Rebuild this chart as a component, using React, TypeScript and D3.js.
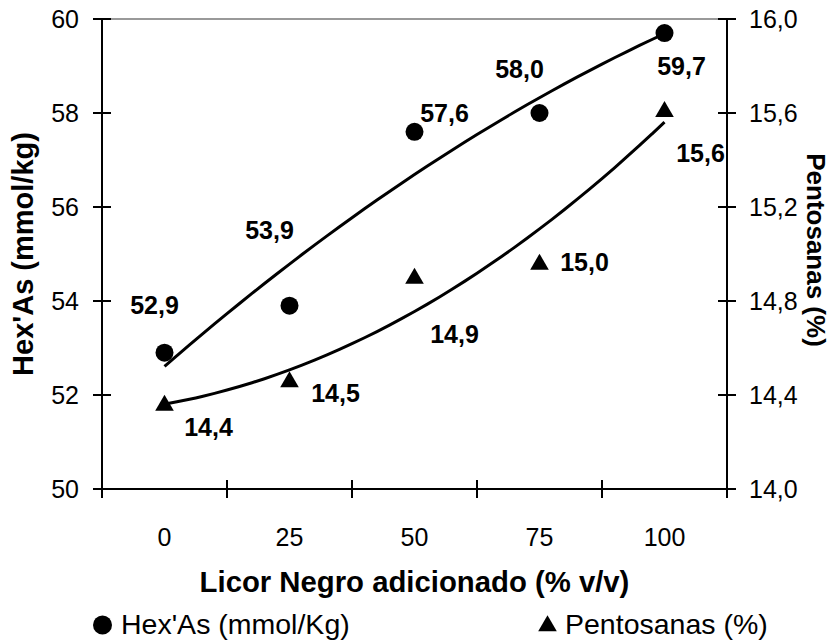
import React, { useEffect, useRef } from "react";
import * as d3 from "d3";

const categories = ["0", "25", "50", "75", "100"];
const hexValues = [52.9, 53.9, 57.6, 58.0, 59.7];
const pentValues = [14.36, 14.46, 14.9, 14.96, 15.61];
const leftTicks = [50, 52, 54, 56, 58, 60];
const rightTicks = [14.0, 14.4, 14.8, 15.2, 15.6, 16.0];

// label offsets from the marker centre (layout only)
const hexLabelOffsets = [[-10, -48], [-20, -76], [30, -19], [-20, -44], [17, 33]];
const pentLabelOffsets = [[44, 23], [46, 12], [40, 56], [45, -1], [36, 42]];

const FONT = "'Liberation Sans', Arial, sans-serif";

const comma = (v: number) => d3.format(".1f")(v).replace(".", ",");

// quadratic least-squares trend on equally spaced points
function quadFit(ys: number[]) {
  const n = ys.length;
  const us = ys.map((_, i) => i - (n - 1) / 2);
  const m2 = d3.mean(us, (u) => u * u) as number;
  const p2 = us.map((u) => u * u - m2);
  const a = d3.mean(ys) as number;
  const b = d3.sum(us, (u, i) => u * ys[i]) / d3.sum(us, (u) => u * u);
  const c = d3.sum(p2, (p, i) => p * ys[i]) / d3.sum(p2, (p) => p * p);
  return (i: number) => {
    const u = i - (n - 1) / 2;
    return a + b * u + c * (u * u - m2);
  };
}

const App = () => {
  const ref = useRef(null);

  useEffect(() => {
    const svg = d3.select(ref.current);
    svg.selectAll("*").remove();

    const left = 102, right = 727, top = 19, bottom = 489;

    const x = d3.scaleBand().domain(categories).range([left, right]);
    const cx = (i: number) => (x(categories[i]) as number) + x.bandwidth() / 2;
    const yL = d3.scaleLinear().domain([50, 60]).range([bottom, top]);
    const yR = d3.scaleLinear().domain([14, 16]).range([bottom, top]);

    const g = svg.append("g");

    // top border
    g.append("line")
      .attr("x1", left).attr("x2", right).attr("y1", top).attr("y2", top)
      .attr("stroke", "#999").attr("stroke-width", 2);

    // axes lines
    g.append("line").attr("x1", left).attr("x2", left).attr("y1", top).attr("y2", bottom)
      .attr("stroke", "#000").attr("stroke-width", 2);
    g.append("line").attr("x1", right).attr("x2", right).attr("y1", top).attr("y2", bottom)
      .attr("stroke", "#000").attr("stroke-width", 2);
    g.append("line").attr("x1", left).attr("x2", right).attr("y1", bottom).attr("y2", bottom)
      .attr("stroke", "#000").attr("stroke-width", 2);

    // left ticks
    g.selectAll(".lt").data(leftTicks).join("line")
      .attr("x1", left - 9).attr("x2", left + 9)
      .attr("y1", (d) => yL(d)).attr("y2", (d) => yL(d))
      .attr("stroke", "#000").attr("stroke-width", 2);
    g.selectAll(".ltl").data(leftTicks).join("text")
      .attr("x", 79).attr("y", (d) => yL(d)).attr("dy", "0.36em")
      .attr("text-anchor", "end").attr("font-size", 25).attr("font-family", FONT)
      .text((d) => String(d));

    // right ticks
    g.selectAll(".rt").data(rightTicks).join("line")
      .attr("x1", right - 9).attr("x2", right + 9)
      .attr("y1", (d) => yR(d)).attr("y2", (d) => yR(d))
      .attr("stroke", "#000").attr("stroke-width", 2);
    g.selectAll(".rtl").data(rightTicks).join("text")
      .attr("x", 749).attr("y", (d) => yR(d)).attr("dy", "0.36em")
      .attr("text-anchor", "start").attr("font-size", 25).attr("font-family", FONT)
      .text((d) => comma(d));

    // bottom ticks at category boundaries
    const bounds = categories.map((c) => x(c) as number).concat([right]);
    g.selectAll(".bt").data(bounds).join("line")
      .attr("x1", (d) => d).attr("x2", (d) => d)
      .attr("y1", bottom - 9).attr("y2", bottom + 9)
      .attr("stroke", "#000").attr("stroke-width", 2);
    g.selectAll(".btl").data(categories).join("text")
      .attr("x", (_, i) => cx(i)).attr("y", 546)
      .attr("text-anchor", "middle").attr("font-size", 25).attr("font-family", FONT)
      .text((d) => d);

    // trend lines
    const line = d3.line<number[]>().x((d) => d[0]).y((d) => d[1]).curve(d3.curveBasis);
    const steps = d3.range(0, 4.0001, 0.1);
    const step = x.step();
    const hexFit = quadFit(hexValues);
    const pentFit = quadFit(pentValues);
    g.append("path")
      .attr("d", line(steps.map((t) => [cx(0) + t * step, yL(hexFit(t))])))
      .attr("fill", "none").attr("stroke", "#000").attr("stroke-width", 3);
    g.append("path")
      .attr("d", line(steps.map((t) => [cx(0) + t * step, yR(pentFit(t))])))
      .attr("fill", "none").attr("stroke", "#000").attr("stroke-width", 3);

    // markers
    g.selectAll(".hex").data(hexValues).join("circle")
      .attr("cx", (_, i) => cx(i)).attr("cy", (d) => yL(d)).attr("r", 9).attr("fill", "#000");
    const tri = d3.symbol().type(d3.symbolTriangle).size(150);
    g.selectAll(".pent").data(pentValues).join("path")
      .attr("d", tri)
      .attr("transform", (d, i) => `translate(${cx(i)},${yR(d) + 1})`)
      .attr("fill", "#000");

    // data labels
    g.selectAll(".hexl").data(hexValues).join("text")
      .attr("x", (_, i) => cx(i) + hexLabelOffsets[i][0])
      .attr("y", (d, i) => yL(d) + hexLabelOffsets[i][1]).attr("dy", "0.36em")
      .attr("text-anchor", "middle").attr("font-size", 25).attr("font-weight", "bold")
      .attr("font-family", FONT).text((d) => comma(d));
    g.selectAll(".pentl").data(pentValues).join("text")
      .attr("x", (_, i) => cx(i) + pentLabelOffsets[i][0])
      .attr("y", (d, i) => yR(d) + pentLabelOffsets[i][1]).attr("dy", "0.36em")
      .attr("text-anchor", "middle").attr("font-size", 25).attr("font-weight", "bold")
      .attr("font-family", FONT).text((d) => comma(d));

    // axis titles
    g.append("text")
      .attr("x", (left + right) / 2).attr("y", 592)
      .attr("text-anchor", "middle").attr("font-size", 29.3).attr("font-weight", "bold")
      .attr("font-family", FONT).text("Licor Negro adicionado (% v/v)");
    g.append("text")
      .attr("transform", `translate(33,${(top + bottom) / 2}) rotate(-90)`)
      .attr("text-anchor", "middle").attr("font-size", 29).attr("font-weight", "bold")
      .attr("font-family", FONT).text("Hex'As (mmol/kg)");
    g.append("text")
      .attr("transform", `translate(807,${(top + bottom) / 2 - 4}) rotate(90)`)
      .attr("text-anchor", "middle").attr("font-size", 26).attr("font-weight", "bold")
      .attr("font-family", FONT).text("Pentosanas (%)");

    // legend
    g.append("circle").attr("cx", 102.5).attr("cy", 625).attr("r", 9.5).attr("fill", "#000");
    g.append("text").attr("x", 121).attr("y", 634).attr("font-size", 28.5)
      .attr("font-family", FONT).text("Hex'As (mmol/Kg)");
    g.append("path").attr("d", tri).attr("transform", "translate(547.5,626)").attr("fill", "#000");
    g.append("text").attr("x", 565).attr("y", 634).attr("font-size", 28.5)
      .attr("font-family", FONT).text("Pentosanas (%)");
  }, []);

  return (
    <svg
      ref={ref}
      width={832}
      height={643}
      style={{ position: "absolute", left: 0, top: 0, background: "#fff" }}
    ></svg>
  );
};

export default App;
